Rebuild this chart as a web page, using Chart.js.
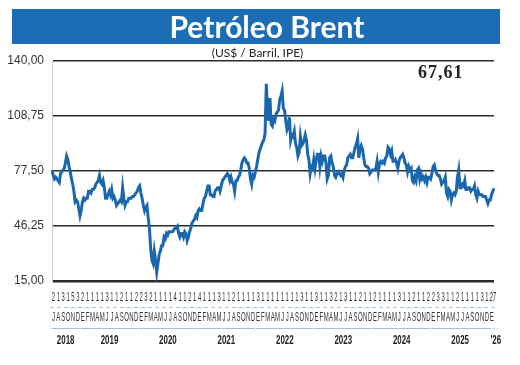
<!DOCTYPE html>
<html>
<head>
<meta charset="utf-8">
<script src="https://cdn.jsdelivr.net/npm/chart.js@4.4.1/dist/chart.umd.min.js"></script>
<style>
  body { margin: 0; background: #fff; }
  #wrap { position: relative; width: 520px; height: 365px; overflow: hidden; }
  #brentChart { position: absolute; left: 0; top: 0; }
  #titleBar { position: absolute; left: 12px; top: 9px; width: 466px; height: 35px; padding-left: 22px;
    background: #1b6db6; color: #fff; font: 700 30px Lato, sans-serif; line-height: 35px; text-align: center; }
  #subTitle { position: absolute; left: 0; top: 45px; width: 515px; text-align: center;
    font: 12px Lato, sans-serif; color: #222; }
  #lastValue { position: absolute; left: 418px; top: 62px; font: 700 18px 'Liberation Serif', serif;
    letter-spacing: 1px; color: #222; }
</style>
</head>
<body>
<div id="wrap">
  <canvas id="brentChart" width="520" height="365"></canvas>
  <div id="titleBar">Petróleo Brent</div>
  <div id="subTitle">(US$ / Barril, IPE)</div>
  <div id="lastValue">67,61</div>
</div>
<script>
// weekly closes, 4 per month (Jul 2018 - Jan 2026)
var brent2018 = [78, 75, 73, 74,  73, 72, 71, 76,  77, 78, 79, 82,  86, 84, 80, 77,  73, 70, 66, 60,  61, 60, 56, 52];
var brent2019 = [55, 60, 62, 61,  62, 62, 66, 66,  65, 67, 67, 68,  70, 71, 72, 75,  71, 70, 72, 68,  62, 62, 64, 66,
                 64, 67, 62, 63,  61, 58, 59, 60,  61, 60, 68, 62,  58, 60, 60, 62,  62, 62, 63, 63,  64, 65, 66, 68];
var brent2020 = [69, 65, 62, 58,  55, 57, 58, 51,  45, 34, 27, 25,  32, 27, 20, 25,  30, 32, 35, 35,  40, 39, 42, 41,
                 43, 43, 43, 43,  44, 45, 45, 46,  42, 40, 42, 42,  40, 43, 42, 38,  40, 43, 45, 48,  49, 50, 52, 51];
var brent2021 = [55, 56, 55, 55,  59, 62, 63, 66,  69, 69, 64, 64,  63, 63, 66, 67,  68, 68, 66, 69,  72, 73, 74, 75,
                 76, 75, 72, 74,  71, 70, 66, 72,  72, 74, 75, 78,  82, 84, 85, 84,  82, 82, 79, 73,  70, 75, 74, 77];
var brent2022 = [80, 84, 88, 90,  92, 94, 95, 99,  127, 111, 106, 119,  104, 103, 107, 106,  110, 111, 112, 118,  120, 123, 113, 112,
                 106, 101, 103, 108,  95, 98, 97, 100,  93, 91, 86, 88,  97, 92, 93, 95,  98, 95, 87, 84,  76, 80, 79, 84];
var brent2023 = [79, 84, 87, 87,  80, 86, 83, 86,  86, 82, 73, 75,  85, 86, 82, 80,  75, 74, 76, 77,  76, 75, 76, 74,
                 78, 80, 81, 85,  86, 87, 85, 85,  88, 91, 93, 96,  85, 90, 92, 90,  85, 81, 80, 80,  79, 76, 77, 78];
var brent2024 = [78, 78, 79, 83,  77, 82, 83, 82,  83, 82, 85, 86,  91, 90, 87, 89,  83, 83, 84, 82,  79, 83, 85, 86,
                 87, 85, 82, 81,  77, 80, 78, 79,  72, 71, 74, 72,  78, 79, 73, 76,  73, 74, 72, 74,  71, 74, 74, 73];
var brent2025 = [76, 80, 81, 78,  76, 75, 75, 73,  70, 71, 72, 74,  65, 63, 67, 66,  61, 64, 65, 64,  66, 74, 78, 68,
                 68, 70, 69, 72,  67, 67, 68, 68,  66, 67, 67, 69,  64, 62, 66, 64,  64, 64, 63, 63,  63, 61, 59, 61];
var brent2026 = [61, 64, 66, 67.61];

// first quoted day of each month, Jul 2018 .. Jan 2026
var firstDays = ['2','1','3','1','5','3',
  '2','1','1','1','1','3','1','1','2','1','1','2',
  '2','3','2','1','1','1','1','4','1','1','2','1',
  '4','1','1','1','3','1','1','2','1','1','1','1',
  '3','1','1','1','1','1','1','1','1','3','1','1',
  '3','1','1','3','2','1','3','1','1','2','1','1',
  '2','1','1','1','1','3','1','1','2','1','1','2',
  '2','3','3','1','1','2','1','1','1','1','3','1',
  '27'];
var monthLetters = ['E','F','M','A','M','J','J','A','S','O','N','D'];
var yearNames = ['2018','2019','2020','2021','2022','2023','2024','2025',"'26"];
var yTicks = [15, 46.25, 77.5, 108.75, 140];

var prices = [].concat(brent2018, brent2019, brent2020, brent2021, brent2022, brent2023, brent2024, brent2025, brent2026);
var weekLabels = prices.map(function(v, i) { return String(i); });

function narrowText(ctx, txt, x, y, font, sx) {
    ctx.save();
    ctx.font = font;
    ctx.translate(x, y);
    ctx.scale(sx, 1);
    ctx.fillText(txt, 0, 0);
    ctx.restore();
}

// the three rows under the plot: day, month letter, year
var axisRows = {
    id: 'axisRows',
    afterDraw: function(chart) {
        var ctx = chart.ctx;
        var xs = chart.scales.x;
        var area = chart.chartArea;
        var monthX = function(m) { return xs.getPixelForValue(m * 4 + 1.2); };

        ctx.save();
        ctx.textAlign = 'center';
        ctx.textBaseline = 'alphabetic';
        ctx.fillStyle = '#333';
        for (var m = 0; m < firstDays.length; m++) {
            var last = m === firstDays.length - 1;
            narrowText(ctx, firstDays[m], monthX(m) + (last ? 1 : 0), 300.5,
                (last ? 'italic ' : '') + '13px "Liberation Sans"', 0.45);
            narrowText(ctx, monthLetters[(m + 6) % 12], monthX(m), 321, '12px "Liberation Sans"', 0.5);
        }

        ctx.strokeStyle = '#a8c8e2';
        ctx.lineWidth = 1;
        ctx.setLineDash([4, 3]);
        ctx.beginPath();
        ctx.moveTo(area.left - 2, 307.5);
        ctx.lineTo(area.right + 3, 307.5);
        ctx.stroke();
        ctx.setLineDash([]);

        ctx.fillStyle = '#222';
        for (var y = 0; y < yearNames.length; y++) {
            var first = y === 0 ? 0 : 6 + (y - 1) * 12;
            var lastM = Math.min(first + (y === 0 ? 5 : 11), firstDays.length - 1);
            var x0 = monthX(first) - 2, x1 = monthX(lastM) + 2;
            ctx.strokeStyle = '#9cc3e0';
            if (y === yearNames.length - 1) {
                ctx.setLineDash([2, 2]);
                x0 = monthX(first) - 3; x1 = monthX(first) + 6;
            }
            ctx.beginPath();
            ctx.moveTo(x0, 328.5);
            ctx.lineTo(x1, 328.5);
            ctx.stroke();
            ctx.setLineDash([]);
            var cx = y === yearNames.length - 1 ? monthX(first) + 4 : (x0 + x1) / 2;
            narrowText(ctx, yearNames[y], cx, 344, 'bold 12px "Liberation Sans"', 0.66);
        }
        ctx.restore();
    }
};

var ctx = document.getElementById('brentChart').getContext('2d');
var brentChart = new Chart(ctx, {
    type: 'line',
    data: {
        labels: weekLabels,
        datasets: [{
            label: 'Brent',
            data: prices,
            borderColor: '#1a67ae',
            borderWidth: 3,
            pointRadius: 0,
            tension: 0,
            fill: false
        }]
    },
    options: {
        responsive: false,
        animation: false,
        devicePixelRatio: 1,
        layout: { padding: { left: 0, top: 61, right: 26, bottom: 84 } },
        plugins: { legend: { display: false }, tooltip: { enabled: false } },
        scales: {
            x: { display: false },
            y: {
                min: 15,
                max: 140,
                afterBuildTicks: function(axis) {
                    axis.ticks = yTicks.map(function(v) { return { value: v }; });
                },
                afterFit: function(axis) { axis.width = 52; },
                ticks: {
                    padding: 8,
                    color: '#333',
                    font: { family: "'Liberation Sans Narrow', 'Liberation Sans'", size: 12 },
                    callback: function(v) { return v.toFixed(2).replace('.', ','); }
                },
                grid: {
                    color: '#2a2a2a',
                    drawTicks: false,
                    lineWidth: function(c) { return c.tick && c.tick.value === 15 ? 2.6 : 1.6; }
                },
                border: { display: true, color: '#d0d0d0', width: 1 }
            }
        }
    },
    plugins: [axisRows]
});
</script>
</body>
</html>
